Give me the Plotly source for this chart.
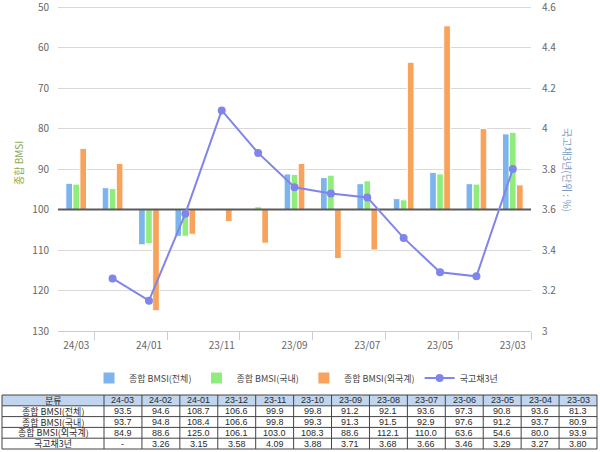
import plotly.graph_objects as go

categories = ["24-03", "24-02", "24-01", "23-12", "23-11", "23-10", "23-09",
              "23-08", "23-07", "23-06", "23-05", "23-04", "23-03"]
tick_labels = ["24/03", "24/01", "23/11", "23/09", "23/07", "23/05", "23/03"]
bmsi_total = [93.5, 94.6, 108.7, 106.6, 99.9, 99.8, 91.2, 92.1, 93.6, 97.3, 90.8, 93.6, 81.3]
bmsi_domestic = [93.7, 94.8, 108.4, 106.6, 99.8, 99.3, 91.3, 91.5, 92.9, 97.6, 91.2, 93.7, 80.9]
bmsi_foreign = [84.9, 88.6, 125.0, 106.1, 103.0, 108.3, 88.6, 112.1, 110.0, 63.6, 54.6, 80.0, 93.9]
ktb3y = [None, 3.26, 3.15, 3.58, 4.09, 3.88, 3.71, 3.68, 3.66, 3.46, 3.29, 3.27, 3.80]
series_names = ["종합 BMSI(전체)", "종합 BMSI(국내)", "종합 BMSI(외국계)", "국고채3년"]
table_header_label = "분류"
BASE = 100

FONT = "Noto Sans CJK KR, Noto Sans, sans-serif"
NUM_FONT = "Liberation Sans, Arial, sans-serif"
W, H = 600, 452

def px_x(x):
    return x / W

def px_y(y):
    return 1 - y / H

xs = list(range(len(categories)))

fig = go.Figure()
bar_colors = ["#7cb5ec", "#90ed7d", "#f7a35c"]
for vals, name, col in zip([bmsi_total, bmsi_domestic, bmsi_foreign], series_names[:3], bar_colors):
    fig.add_trace(go.Bar(
        x=xs, y=[v - BASE for v in vals], base=BASE, name=name,
        marker=dict(color=col, line=dict(color="white", width=1)),
        xaxis="x", yaxis="y",
    ))

# reference line at the bar base
fig.add_trace(go.Scatter(
    x=[xs[0] - 0.5, xs[-1] + 0.5], y=[BASE, BASE], mode="lines",
    line=dict(color="#5a5a5a", width=2), showlegend=False, hoverinfo="skip",
    xaxis="x", yaxis="y",
))

fig.add_trace(go.Scatter(
    x=xs, y=ktb3y, name=series_names[3], mode="lines+markers",
    line=dict(color="#8085e9", width=2),
    marker=dict(color="#8085e9", size=8),
    xaxis="x", yaxis="y2",
))

# ---------- table (drawn with shapes + annotations) ----------
def f1(v):
    return "-" if v is None else f"{v:.1f}"

def f2(v):
    return "-" if v is None else f"{v:.2f}"

rows = [[table_header_label] + categories]
rows.append([series_names[0]] + [f1(v) for v in bmsi_total])
rows.append([series_names[1]] + [f1(v) for v in bmsi_domestic])
rows.append([series_names[2]] + [f1(v) for v in bmsi_foreign])
rows.append([series_names[3]] + [f2(v) for v in ktb3y])

T_LEFT, T_FIRST, T_RIGHT = 2, 104, 597
T_TOP, ROW_H = 395, 10.8
col_w = (T_RIGHT - T_FIRST) / len(categories)
col_edges = [T_LEFT] + [T_FIRST + col_w * k for k in range(len(categories) + 1)]
row_edges = [T_TOP + ROW_H * r for r in range(len(rows) + 1)]

shapes = []
shapes.append(dict(type="rect", xref="paper", yref="paper",
                   x0=px_x(T_LEFT), x1=px_x(T_RIGHT), y0=px_y(row_edges[1]), y1=px_y(row_edges[0]),
                   fillcolor="#c2d5ee", line=dict(width=0), layer="below"))
for ry in row_edges:
    shapes.append(dict(type="line", xref="paper", yref="paper",
                       x0=px_x(T_LEFT), x1=px_x(T_RIGHT), y0=px_y(ry), y1=px_y(ry),
                       line=dict(color="#444444", width=1)))
for cx in col_edges:
    shapes.append(dict(type="line", xref="paper", yref="paper",
                       x0=px_x(cx), x1=px_x(cx), y0=px_y(row_edges[0]), y1=px_y(row_edges[-1]),
                       line=dict(color="#444444", width=1)))

annotations = []
for r, row in enumerate(rows):
    yc = (row_edges[r] + row_edges[r + 1]) / 2
    for c, txt in enumerate(row):
        xc = (col_edges[c] + col_edges[c + 1]) / 2
        fam = FONT if c == 0 else NUM_FONT
        annotations.append(dict(text=txt, xref="paper", yref="paper", x=px_x(xc), y=px_y(yc),
                                xanchor="center", yanchor="middle", showarrow=False,
                                borderpad=0,
                                font=dict(family=fam, size=9, color="#2a2a2a")))

annotations.append(dict(text="종합 BMSI", xref="paper", yref="paper", x=px_x(18), y=px_y(163),
                        xanchor="center", yanchor="middle",
                        showarrow=False, textangle=-90, font=dict(size=10, color="#8aa85a")))
annotations.append(dict(text="국고채3년(단위 : %)", xref="paper", yref="paper", x=px_x(568), y=px_y(170),
                        xanchor="center", yanchor="middle",
                        showarrow=False, textangle=90, font=dict(size=10, color="#7f9cc4")))

PLOT_TOP, PLOT_BOTTOM = 6, 331
x_dom = [px_x(58), px_x(531)]
y_dom = [px_y(PLOT_BOTTOM), px_y(PLOT_TOP)]

fig.update_layout(
    width=W, height=H,
    margin=dict(l=0, r=0, t=0, b=0, autoexpand=False),
    paper_bgcolor="white", plot_bgcolor="white",
    font=dict(family=FONT, color="#555555"),
    barmode="group", bargap=0.42, bargroupgap=0.05,
    showlegend=True,
    legend=dict(orientation="h", x=px_x(296), xanchor="center", y=px_y(378), yanchor="middle",
                font=dict(size=9, color="#444444"), itemwidth=30, tracegroupgap=0,
                bgcolor="rgba(0,0,0,0)"),
    xaxis=dict(domain=x_dom, range=[-0.5, len(categories) - 0.5],
               tickvals=xs[::2], ticktext=tick_labels, ticks="",
               tickfont=dict(size=10, color="#666666"), ticklabelstandoff=5,
               showgrid=False, zeroline=False, automargin=False,
               showline=True, linecolor="#c0d0e0", linewidth=1,
               minor=dict(tickvals=[i + 0.5 for i in xs[::2]], ticks="outside",
                          ticklen=8, tickcolor="#c0d0e0", tickwidth=1, showgrid=False),
               anchor="y"),
    yaxis=dict(domain=y_dom, range=[130, 49.7], dtick=10, tick0=50,
               showgrid=True, gridcolor="#d9d9d9", gridwidth=1, automargin=False,
               zeroline=False, showline=False, ticks="", ticklabeloverflow="allow",
               tickfont=dict(size=10, color="#666666"), ticklabelstandoff=8,
               anchor="x"),
    yaxis2=dict(domain=y_dom, overlaying="y", side="right", range=[3, 4.606], dtick=0.2,
                tick0=3, showgrid=False, zeroline=False, showline=False, ticks="",
                automargin=False, ticklabeloverflow="allow",
                tickfont=dict(size=10, color="#666666"), ticklabelstandoff=10,
                anchor="x"),
    shapes=shapes,
    annotations=annotations,
)

fig.write_html("out.html")
